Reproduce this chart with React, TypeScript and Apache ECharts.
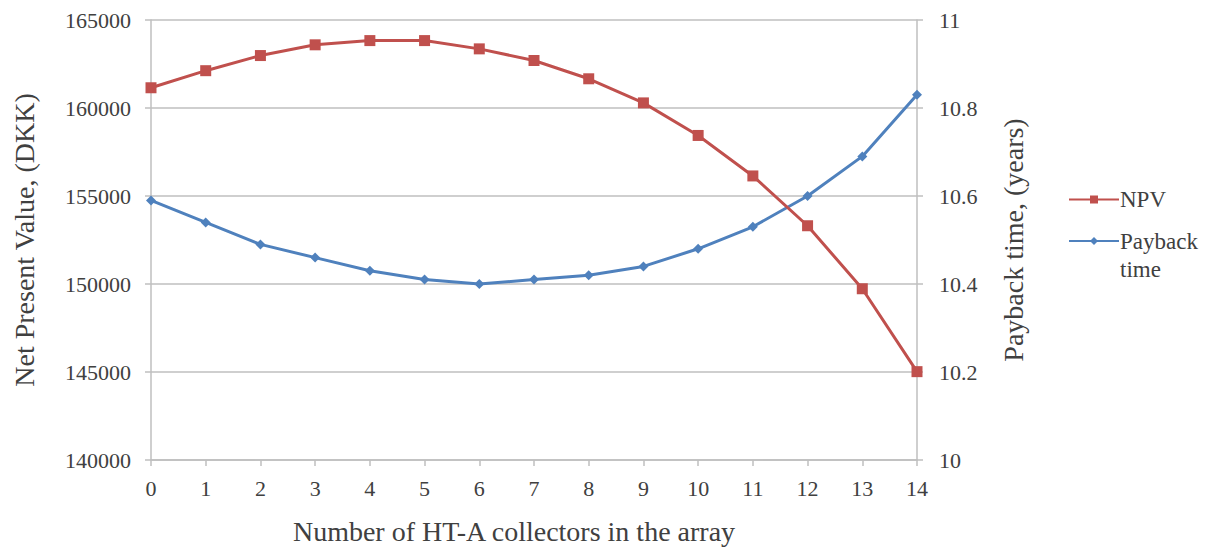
import React, { useEffect, useRef } from "react";
import * as echarts from "echarts";

const categories = ["0", "1", "2", "3", "4", "5", "6", "7", "8", "9", "10", "11", "12", "13", "14"];
const npvValues = [161150, 162120, 162980, 163590, 163830, 163830, 163360, 162700, 161660, 160290, 158440, 156140, 153310, 149730, 145020];
const paybackValues = [10.59, 10.54, 10.49, 10.46, 10.43, 10.41, 10.40, 10.41, 10.42, 10.44, 10.48, 10.53, 10.60, 10.69, 10.83];

const FONT = "Liberation Serif";
const RED = "#C0504D";
const BLUE = "#4F81BD";
const GRID = "#BFBFBF";
const TEXT = "#404040";

export default function App() {
  const ref = useRef<HTMLDivElement>(null);
  useEffect(() => {
    if (!ref.current) return;
    const chart = echarts.init(ref.current, null, { renderer: "svg" });
    chart.setOption({
      animation: false,
      backgroundColor: "#ffffff",
      textStyle: { fontFamily: FONT },
      grid: { left: 151, right: 300, top: 20, bottom: 88 },
      legend: [
        {
          data: ["NPV"],
          left: 1063,
          top: 183,
          orient: "vertical",
          itemWidth: 50,
          itemHeight: 10,
          itemGap: 0,
          textStyle: { fontFamily: FONT, fontSize: 23, color: TEXT, padding: [0, 0, 0, -4] },
        },
        {
          data: ["Payback time"],
          left: 1063,
          top: 194,
          orient: "vertical",
          itemWidth: 50,
          itemHeight: 10,
          itemGap: 0,
          formatter: () => "\u00a0\nPayback\ntime",
          textStyle: { fontFamily: FONT, fontSize: 23, color: TEXT, lineHeight: 28, padding: [0, 0, 0, -4] },
        },
      ],
      xAxis: {
        type: "category",
        data: categories,
        boundaryGap: false,
        axisLine: { lineStyle: { color: GRID, width: 1.5 } },
        axisTick: { show: true, length: 6, alignWithLabel: true, lineStyle: { color: GRID, width: 1.5 } },
        axisLabel: { fontFamily: FONT, fontSize: 22, color: TEXT, margin: 17 },
        name: "Number of HT-A collectors in the array",
        nameLocation: "middle",
        nameGap: 57,
        nameTextStyle: { fontFamily: FONT, fontSize: 28, color: TEXT, padding: [0, 40, 0, 0] },
      },
      yAxis: [
        {
          type: "value",
          min: 140000,
          max: 165000,
          interval: 5000,
          axisLine: { show: true, lineStyle: { color: GRID, width: 1.5 } },
          axisTick: { show: true, length: 6, lineStyle: { color: GRID, width: 1.5 } },
          splitLine: { show: true, lineStyle: { color: GRID, width: 1.5 } },
          axisLabel: {
            fontFamily: FONT,
            fontSize: 22,
            color: TEXT,
            margin: 20,
            formatter: (v: number) => String(v),
          },
          name: "Net Present Value, (DKK)",
          nameLocation: "middle",
          nameGap: 113,
          nameTextStyle: { fontFamily: FONT, fontSize: 28, color: TEXT },
        },
        {
          type: "value",
          min: 10,
          max: 11,
          interval: 0.2,
          position: "right",
          axisLine: { show: true, lineStyle: { color: GRID, width: 1.5 } },
          axisTick: { show: true, length: 6, lineStyle: { color: GRID, width: 1.5 } },
          splitLine: { show: false },
          axisLabel: {
            fontFamily: FONT,
            fontSize: 22,
            color: TEXT,
            margin: 22,
            formatter: (v: number) => String(Math.round(v * 10) / 10),
          },
          name: "Payback time, (years)",
          nameLocation: "middle",
          nameRotate: 90,
          nameGap: 82,
          nameTextStyle: { fontFamily: FONT, fontSize: 28, color: TEXT },
        },
      ],
      series: [
        {
          name: "NPV",
          type: "line",
          yAxisIndex: 0,
          data: npvValues,
          symbol: "rect",
          symbolSize: 11,
          itemStyle: { color: RED },
          lineStyle: { color: RED, width: 3 },
          z: 3,
        },
        {
          name: "Payback time",
          type: "line",
          yAxisIndex: 1,
          data: paybackValues,
          symbol: "diamond",
          symbolSize: 10,
          itemStyle: { color: BLUE },
          lineStyle: { color: BLUE, width: 3 },
          z: 2,
        },
      ],
    });
    return () => chart.dispose();
  }, []);
  return <div ref={ref} style={{ width: 1217, height: 550, position: "absolute", left: 0, top: 0 }} />;
}
